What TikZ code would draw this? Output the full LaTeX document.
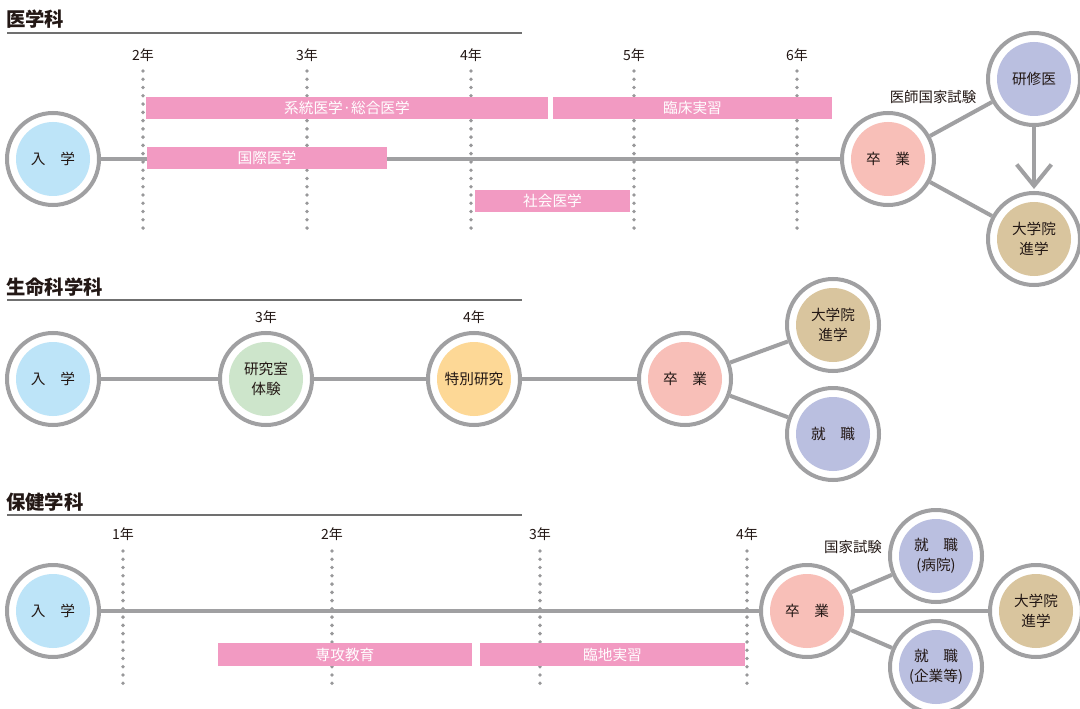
\documentclass[tikz,border=0pt]{standalone}
\usepackage{fontspec}
\setmainfont{Noto Sans CJK JP}
\usetikzlibrary{arrows.meta}
\definecolor{ringgray}{HTML}{A0A0A2}
\definecolor{dotgray}{HTML}{98989A}
\definecolor{titleline}{HTML}{707070}
\definecolor{txt}{HTML}{231815}
\definecolor{cblue}{HTML}{BDE4F8}
\definecolor{csalmon}{HTML}{F8BFB8}
\definecolor{clav}{HTML}{BABFE0}
\definecolor{ctan}{HTML}{D9C59E}
\definecolor{cgreen}{HTML}{CDE5CB}
\definecolor{corange}{HTML}{FDD896}
\definecolor{cbar}{HTML}{F29AC2}
\newcommand{\fsz}[1]{\fontsize{#1}{15}\selectfont}
\tikzset{
  stage/.style={circle, draw=ringgray, line width=3pt, fill=white, minimum size=69pt,
    inner sep=0pt, align=center, font=\fsz{11}, text=txt,
    path picture={\fill[#1] (path picture bounding box.center) circle[radius=27.75pt];}},
  conn/.style={draw=ringgray, line width=3pt},
  dots/.style={draw=dotgray, line width=2.9pt, line cap=round, dash pattern=on 0pt off 6.2pt},
  bar/.style={fill=cbar, draw=none},
  bartext/.style={text=white, font=\fsz{11}, inner sep=0pt},
  year/.style={font=\fsz{10.5}, text=txt, inner sep=0pt},
  ttl/.style={font=\fsz{14.5}\bfseries, text=txt, anchor=west, inner sep=0pt},
  ttlline/.style={draw=titleline, line width=1.5pt},
  lbl/.style={font=\fsz{10.8}, text=txt, inner sep=0pt},
}
\begin{document}
\begin{tikzpicture}[x=0.75pt,y=-0.75pt]
\useasboundingbox (0,0) rectangle (1080,709);
\fill[white] (0,0) rectangle (1080,709);

% ===== Section 1 =====
\node[ttl] (t1) at (6,19) {医学科};
\coordinate (u1a) at (7,33); \coordinate (u1b) at (522,33);
\draw[ttlline] (u1a) -- (u1b);
\foreach \x/\n in {143/2,307/3,471/4,634/5,797/6}{
  \node[year] (y1-\n) at (\x,55) {\n 年};
  \coordinate (d1t-\n) at (\x,71);
  \coordinate (d1b-\n) at (\x,233);
  \draw[dots] (d1t-\n) -- (d1b-\n);
}
\node[stage=cblue] (a1) at (53,159) {入\hspace{1em}学};
\node[stage=csalmon] (g1) at (888,159) {卒\hspace{1em}業};
\node[stage=clav] (k1) at (1034,79) {研修医};
\node[stage=ctan] (p1) at (1034,239) {大学院\\進学};
\draw[conn] (a1) -- (g1);
\draw[conn] (g1) -- (k1);
\draw[conn] (g1) -- (p1);
\draw[conn, -{Straight Barb[length=16pt,width=26pt]}, shorten >=1.5pt] (k1) -- (p1);
\node[lbl] (l1) at (933,97) {医師国家試験};
\fill[bar] (146,97) rectangle (548,119);
\node[bartext] (b1) at (347,108) {系統医学·総合医学};
\fill[bar] (553,97) rectangle (832,119);
\node[bartext] (b2) at (692.5,108) {臨床実習};
\fill[bar] (147,147) rectangle (387,169);
\node[bartext] (b3) at (267,158) {国際医学};
\fill[bar] (475,190) rectangle (630,212);
\node[bartext] (b4) at (552.5,201) {社会医学};

% ===== Section 2 =====
\node[ttl] (t2) at (6,287) {生命科学科};
\coordinate (u2a) at (7,300); \coordinate (u2b) at (522,300);
\draw[ttlline] (u2a) -- (u2b);
\node[year] (y2-3) at (266,317) {3年};
\node[year] (y2-4) at (474,317) {4年};
\node[stage=cblue] (a2) at (53,379) {入\hspace{1em}学};
\node[stage=cgreen] (r2) at (266,379) {研究室\\体験};
\node[stage=corange] (s2) at (474,379) {特別研究};
\node[stage=csalmon] (g2) at (685,379) {卒\hspace{1em}業};
\node[stage=ctan] (p2) at (833,325) {大学院\\進学};
\node[stage=clav] (j2) at (833,434) {就\hspace{1em}職};
\draw[conn] (a2) -- (r2);
\draw[conn] (r2) -- (s2);
\draw[conn] (s2) -- (g2);
\draw[conn] (g2) -- (p2);
\draw[conn] (g2) -- (j2);

% ===== Section 3 =====
\node[ttl] (t3) at (6,502) {保健学科};
\coordinate (u3a) at (7,515); \coordinate (u3b) at (522,515);
\draw[ttlline] (u3a) -- (u3b);
\foreach \x/\n in {123/1,332/2,540/3,747/4}{
  \node[year] (y3-\n) at (\x,534) {\n 年};
  \coordinate (d3t-\n) at (\x,551);
  \coordinate (d3b-\n) at (\x,689);
  \draw[dots] (d3t-\n) -- (d3b-\n);
}
\node[stage=cblue] (a3) at (53,611) {入\hspace{1em}学};
\node[stage=csalmon] (g3) at (807,611) {卒\hspace{1em}業};
\node[stage=clav] (h3) at (936,556) {就\hspace{1em}職\\(病院)};
\node[stage=clav] (c3) at (936,667) {就\hspace{1em}職\\(企業等)};
\node[stage=ctan] (p3) at (1036,611) {大学院\\進学};
\draw[conn] (a3) -- (g3);
\draw[conn] (g3) -- (p3);
\draw[conn] (g3) -- (h3);
\draw[conn] (g3) -- (c3);
\node[lbl] (l3) at (853,547) {国家試験};
\fill[bar] (218,643) rectangle (472,666);
\node[bartext] (b5) at (345,654.5) {専攻教育};
\fill[bar] (480,643) rectangle (745,666);
\node[bartext] (b6) at (612.5,654.5) {臨地実習};
\end{tikzpicture}
\end{document}
